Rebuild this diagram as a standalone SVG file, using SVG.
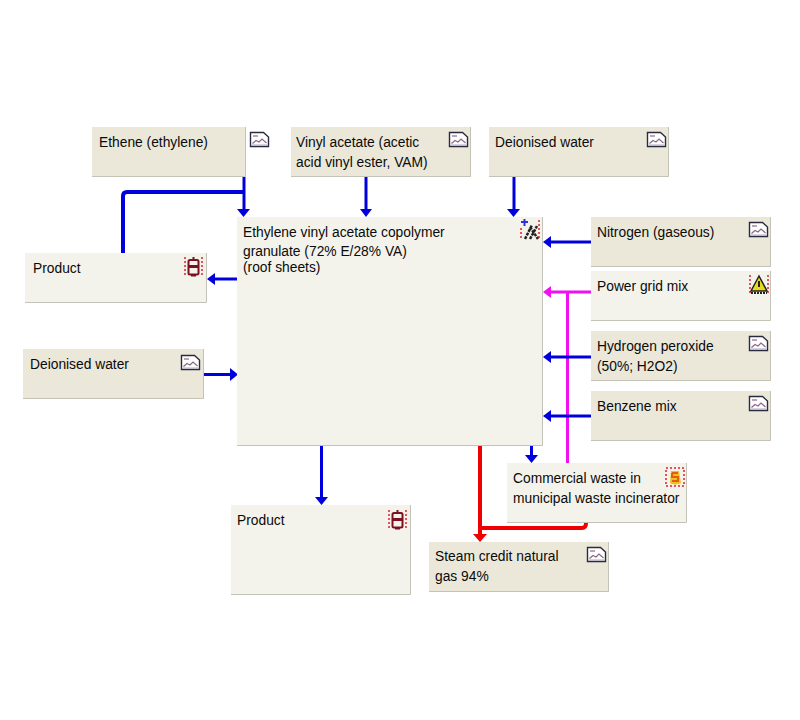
<svg xmlns="http://www.w3.org/2000/svg" width="800" height="720" viewBox="0 0 800 720">
<style>
text{font-family:"Liberation Sans",Arial,sans-serif;font-size:13.800px;fill:#0a0a0a}
.d{fill:#ebe8da;stroke:none}.l{fill:#f4f3eb;stroke:none}
.e{fill:none;stroke:#c4c3b8;stroke-width:1}
.b{fill:none;stroke:#0000dc;stroke-width:3}.r{fill:none;stroke:#f00000;stroke-width:4}.m{fill:none;stroke:#f010f0;stroke-width:3}
.dash{fill:none;stroke:#e02030;stroke-width:1.500;stroke-dasharray:2 2}
</style>
<defs>
<g id="doc"><path d="M.5 .5H13.500L18.500 5V14.500H.5Z" fill="#fff" stroke="#2a2a40" stroke-width="1.400"/><path d="M2.500 11.500L6 8.500L9 10L12 7L16.500 11" fill="none" stroke="#8a6a8a" stroke-width="1.200"/><path d="M3 4H8" stroke="#8a6a8a" stroke-width="1.200"/><path d="M2 13H17" stroke="#b0a8c0" stroke-width="1"/></g>
<g id="prod"><path class="dash" d="M1 0V19M18 0V19"/><rect x="4.500" y="3" width="10" height="14.500" rx="1.500" fill="#f4f3eb" stroke="#7c1020" stroke-width="2"/><path d="M4.500 9.500H14.500" stroke="#7c1020" stroke-width="3"/><path d="M9.500 0V3M7 18.500H12" stroke="#7c1020" stroke-width="2"/></g>
</defs>
<g id="connectors">
<path class="b" d="M244 177V210"/><path d="M237 209H250L243.500 217Z" fill="#0000dc"/>
<path class="b" d="M244 192H127Q123 192 123 196V253" style="stroke-width:4"/>
<path class="b" d="M366 177V210"/><path d="M360 209H372L366 217Z" fill="#0000dc"/>
<path class="b" d="M514 177V210"/><path d="M507 209H520L513.500 217Z" fill="#0000dc"/>
<path class="b" d="M591 242H550"/><path d="M551 236V248L543 242Z" fill="#0000dc"/>
<path class="m" d="M591 292H550"/><path d="M551 286V298L543 292Z" fill="#f010f0"/>
<path class="m" d="M567.500 292V463"/>
<path class="b" d="M591 357H550"/><path d="M551 351V363L543 357Z" fill="#0000dc"/>
<path class="b" d="M591 416H550"/><path d="M551 410V422L543 416Z" fill="#0000dc"/>
<path class="b" d="M237 279H214"/><path d="M215 273V285L207 279Z" fill="#0000dc"/>
<path class="b" d="M204 374.500H231"/><path d="M230 368V381L238 374.500Z" fill="#0000dc"/>
<path class="b" d="M321.500 446V498"/><path d="M315 497H328L321.500 505Z" fill="#0000dc"/>
<path class="b" d="M531.500 446V456"/><path d="M525 455H538L531.500 463Z" fill="#0000dc"/>
<path class="r" d="M480 446V535"/><path d="M473 534H487L480 542Z" fill="#f00000"/>
<path class="r" d="M480 528H582Q586 528 586 523"/>
</g>
<g id="n-ethene"><rect class="d" x="92" y="127" width="153" height="50"/><path class="e" d="M92 176.500H245.500V127"/><use href="#doc" x="250" y="132"/><text x="99" y="147">Ethene (ethylene)</text></g>
<g id="n-vinyl"><rect class="d" x="291" y="127" width="180" height="50"/><path class="e" d="M291 176.500H470.500V127"/><use href="#doc" x="449" y="132"/><text x="296" y="147">Vinyl acetate (acetic</text><text x="296" y="167">acid vinyl ester, VAM)</text></g>
<g id="n-water1"><rect class="d" x="489" y="127" width="180" height="50"/><path class="e" d="M489 176.500H668.500V127"/><use href="#doc" x="647" y="132"/><text x="495" y="147">Deionised water</text></g>
<g id="n-main"><rect class="l" x="237" y="217" width="306" height="229"/><path class="e" d="M237 445.500H542.500V217"/>
<g><path class="dash" d="M521 228V240M539 220V240"/><path d="M521 222H528M524.500 219V226" stroke="#3030e0" stroke-width="2"/><path d="M525 239L532 225M530 239L537 226M530 227L538 239" stroke="#222" stroke-width="2.500" fill="none" stroke-dasharray="3 1"/></g>
<text x="243" y="237">Ethylene vinyl acetate copolymer</text><text x="243" y="256">granulate (72% E/28% VA)</text><text x="243" y="272">(roof sheets)</text></g>
<g id="n-nitrogen"><rect class="d" x="591" y="217" width="180" height="50"/><path class="e" d="M591 266.500H770.500V217"/><use href="#doc" x="749" y="222"/><text x="597" y="237">Nitrogen (gaseous)</text></g>
<g id="n-power"><rect class="l" x="591" y="271" width="180" height="50"/><path class="e" d="M591 320.500H770.500V271"/><path class="dash" d="M750 275V294M768 275V294"/><path d="M759 276L767 291H751Z" fill="#e8d820" stroke="#222" stroke-width="1.500"/><path d="M759 281V287" stroke="#222" stroke-width="2"/><path d="M751 293H767" stroke="#222" stroke-width="2" stroke-dasharray="2 1"/><text x="597" y="291">Power grid mix</text></g>
<g id="n-h2o2"><rect class="d" x="591" y="331" width="180" height="50"/><path class="e" d="M591 380.500H770.500V331"/><use href="#doc" x="749" y="336"/><text x="597" y="351">Hydrogen peroxide</text><text x="597" y="371">(50%; H2O2)</text></g>
<g id="n-benzene"><rect class="d" x="591" y="391" width="180" height="50"/><path class="e" d="M591 440.500H770.500V391"/><use href="#doc" x="749" y="396"/><text x="597" y="411">Benzene mix</text></g>
<g id="n-product1"><rect class="l" x="25" y="253" width="182" height="50"/><path class="e" d="M25 302.500H206.500V253"/><use href="#prod" x="184" y="257"/><text x="33" y="273">Product</text></g>
<g id="n-water2"><rect class="d" x="23" y="349" width="181" height="50"/><path class="e" d="M23 398.500H203.500V349"/><use href="#doc" x="181" y="355"/><text x="30" y="369">Deionised water</text></g>
<g id="n-product2"><rect class="l" x="231" y="505" width="180" height="90"/><path class="e" d="M231 594.500H410.500V505"/><use href="#prod" x="388" y="510"/><text x="237" y="525">Product</text></g>
<g id="n-waste"><rect class="l" x="507" y="463" width="180" height="60"/><path class="e" d="M507 522.500H686.500V463"/><path class="dash" d="M666 468H684V486H666Z"/><path d="M670 483Q675 486 681 483L679 471H671Z" fill="#f0c020"/><path d="M672 473H678M672 473V477H678V481H672" fill="none" stroke="#e06010" stroke-width="2"/><text x="513" y="483">Commercial waste in</text><text x="513" y="503">municipal waste incinerator</text></g>
<g id="n-steam"><rect class="d" x="429" y="542" width="180" height="50"/><path class="e" d="M429 591.500H608.500V542"/><use href="#doc" x="587" y="547"/><text x="435" y="561">Steam credit natural</text><text x="435" y="581">gas 94%</text></g>
</svg>
